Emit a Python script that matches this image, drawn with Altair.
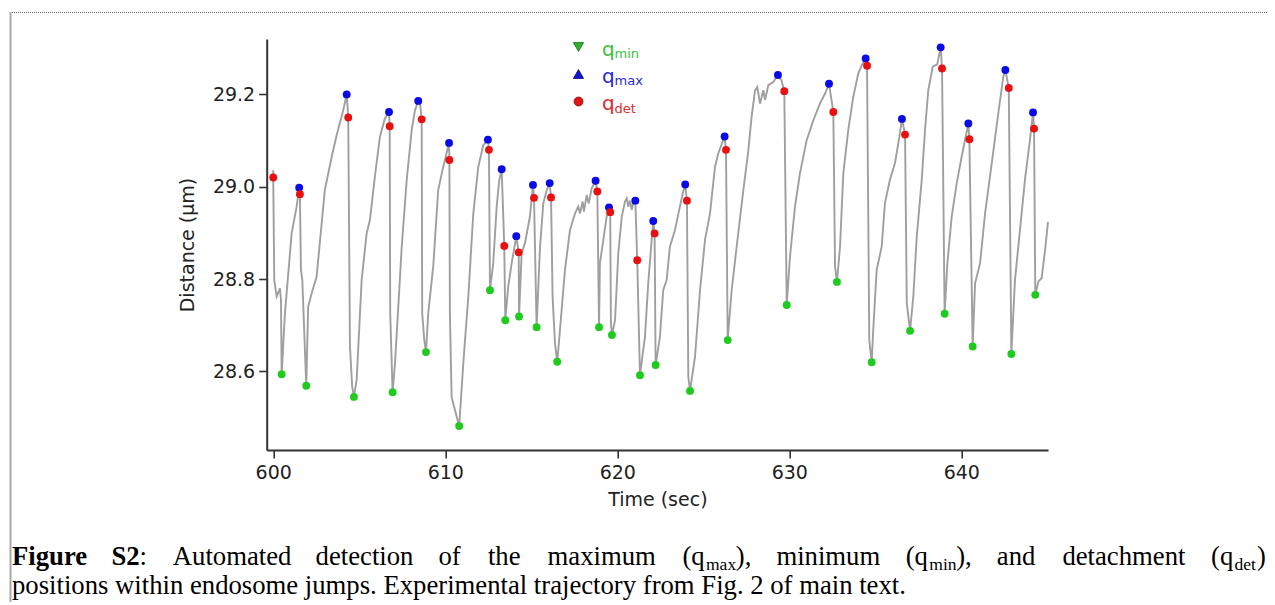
import altair as alt
import pandas as pd

# ---- trajectory (gray trace) ----
trace_t = [600.00, 600.00, 600.06, 600.20, 600.39, 600.45, 600.49, 600.68, 601.07, 601.36,
           601.51, 601.55, 601.61, 601.69, 601.92, 602.03, 602.23, 602.52, 603.00, 603.40,
           603.69, 604.07, 604.27, 604.36, 604.46, 604.59, 604.69, 604.85, 605.14, 605.43,
           605.62, 605.91, 606.20, 606.49, 606.73, 606.77, 606.80, 606.94, 607.08, 607.47,
           607.76, 608.05, 608.24, 608.43, 608.55, 608.63, 608.66, 608.78, 608.88, 609.01,
           609.30, 609.59, 609.88, 610.22, 610.24, 610.27, 610.37, 610.56, 610.81, 611.05,
           611.34, 611.63, 611.92, 612.21, 612.48, 612.54, 612.60, 612.79, 612.99, 613.14,
           613.28, 613.43, 613.49, 613.66, 613.86, 614.13, 614.27, 614.29, 614.44, 614.63,
           614.92, 615.10, 615.16, 615.31, 615.51, 615.70, 615.90, 616.07, 616.15, 616.24,
           616.38, 616.51, 616.67, 616.96, 617.25, 617.54, 617.73, 617.83, 617.99, 618.06,
           618.22, 618.34, 618.51, 618.74, 618.84, 618.94, 618.99, 619.19, 619.38, 619.52,
           619.59, 619.63, 619.69, 619.87, 620.06, 620.26, 620.45, 620.55, 620.64, 620.74,
           620.84, 620.93, 621.05, 621.16, 621.32, 621.61, 621.80, 622.00, 622.09, 622.17,
           622.23, 622.48, 622.67, 622.87, 623.06, 623.35, 623.64, 623.83, 623.95, 624.05,
           624.13, 624.23, 624.52, 624.81, 625.10, 625.39, 625.68, 625.87, 626.24, 626.32,
           626.42, 626.65, 626.94, 627.33, 627.62, 627.81, 628.01, 628.14, 628.30, 628.49,
           628.59, 628.78, 629.07, 629.34, 629.55, 629.71, 629.85, 630.04, 630.33, 630.62,
           631.01, 631.40, 631.78, 632.08, 632.31, 632.56, 632.66, 632.77, 632.95, 633.14,
           633.43, 633.72, 634.01, 634.21, 634.44, 634.52, 634.65, 634.79, 634.88, 635.08,
           635.37, 635.56, 635.85, 636.14, 636.40, 636.55, 636.73, 636.83, 637.02, 637.21,
           637.41, 637.70, 637.89, 638.08, 638.34, 638.60, 638.80, 638.88, 639.03, 639.19,
           639.44, 639.73, 640.02, 640.41, 640.47, 640.66, 640.80, 641.09, 641.38, 641.77,
           642.15, 642.44, 642.56, 642.76, 642.91, 643.12, 643.41, 643.70, 643.99, 644.17,
           644.23, 644.30, 644.48, 644.67, 644.87, 645.04]
trace_v = [29.036, 29.020, 28.798, 28.762, 28.780, 28.755, 28.594, 28.726, 28.899, 28.957,
           28.998, 28.984, 28.820, 28.798, 28.569, 28.740, 28.769, 28.805, 28.993, 29.065,
           29.112, 29.166, 29.200, 29.150, 28.654, 28.567, 28.545, 28.582, 28.798, 28.899,
           28.928, 29.022, 29.108, 29.148, 29.162, 29.131, 28.726, 28.555, 28.618, 28.870,
           29.015, 29.123, 29.166, 29.186, 29.175, 29.146, 28.726, 28.668, 28.642, 28.726,
           28.827, 28.993, 29.043, 29.095, 29.058, 28.726, 28.545, 28.517, 28.482, 28.618,
           28.762, 28.942, 29.043, 29.090, 29.102, 29.080, 28.776, 28.834, 28.957, 29.015,
           29.038, 28.872, 28.711, 28.784, 28.834, 28.893, 28.858, 28.719, 28.856, 28.877,
           28.935, 29.004, 28.976, 28.696, 28.870, 28.964, 28.993, 29.008, 28.977, 28.762,
           28.661, 28.621, 28.690, 28.820, 28.906, 28.942, 28.957, 28.942, 28.968, 28.946,
           28.982, 28.964, 28.996, 29.013, 28.990, 28.696, 28.834, 28.885, 28.935, 28.955,
           28.945, 28.704, 28.679, 28.711, 28.856, 28.935, 28.968, 28.975, 28.957, 28.970,
           28.950, 28.965, 28.970, 28.841, 28.592, 28.675, 28.791, 28.885, 28.926, 28.899,
           28.614, 28.675, 28.776, 28.798, 28.870, 28.906, 28.957, 28.989, 29.005, 28.970,
           28.589, 28.558, 28.632, 28.776, 28.885, 28.942, 29.043, 29.072, 29.109, 29.080,
           28.668, 28.776, 28.870, 28.993, 29.079, 29.152, 29.209, 29.216, 29.180, 29.209,
           29.188, 29.220, 29.227, 29.242, 29.230, 29.207, 28.744, 28.848, 28.957, 29.029,
           29.101, 29.144, 29.180, 29.202, 29.223, 29.162, 28.827, 28.794, 28.870, 29.029,
           29.123, 29.195, 29.245, 29.263, 29.278, 29.262, 28.668, 28.620, 28.690, 28.820,
           28.870, 28.964, 29.015, 29.051, 29.108, 29.147, 29.113, 28.748, 28.688, 28.762,
           28.892, 29.015, 29.123, 29.209, 29.260, 29.265, 29.302, 29.256, 28.725, 28.834,
           28.935, 29.007, 29.065, 29.137, 29.103, 28.654, 28.791, 28.834, 28.942, 29.051,
           29.159, 29.238, 29.253, 29.214, 28.638, 28.798, 28.906, 29.015, 29.101, 29.161,
           29.126, 28.766, 28.795, 28.802, 28.863, 28.924]

# ---- detected positions ----
qmin_t = [600.49, 601.92, 604.69, 606.94, 608.88, 610.81, 612.60, 613.49, 614.29, 615.31,
          616.51, 618.94, 619.69, 621.32, 622.23, 624.23, 626.42, 629.85, 632.77, 634.79,
          637.02, 639.03, 640.66, 642.91, 644.30]
qmin_v = [28.594, 28.569, 28.545, 28.555, 28.642, 28.482, 28.776, 28.711, 28.719, 28.696,
          28.621, 28.696, 28.679, 28.592, 28.614, 28.558, 28.668, 28.744, 28.794, 28.620,
          28.688, 28.725, 28.654, 28.638, 28.766]
qmax_t = [601.51, 604.27, 606.73, 608.43, 610.22, 612.48, 613.28, 614.13, 615.10, 616.07,
          618.74, 619.52, 621.05, 622.09, 623.95, 626.24, 629.34, 632.31, 634.44, 636.55,
          638.80, 640.41, 642.56, 644.17]
qmax_v = [28.998, 29.200, 29.162, 29.186, 29.095, 29.102, 29.038, 28.893, 29.004, 29.008,
          29.013, 28.955, 28.970, 28.926, 29.005, 29.109, 29.242, 29.223, 29.278, 29.147,
          29.302, 29.137, 29.253, 29.161]
qdet_t = [600.00, 601.55, 604.36, 606.77, 608.63, 610.24, 612.54, 613.43, 614.27, 615.16,
          616.15, 618.84, 619.59, 621.16, 622.17, 624.05, 626.32, 629.71, 632.56, 634.52,
          636.73, 638.88, 640.47, 642.76, 644.23]
qdet_v = [29.020, 28.984, 29.150, 29.131, 29.146, 29.058, 29.080, 28.872, 28.858, 28.976,
          28.977, 28.990, 28.945, 28.841, 28.899, 28.970, 29.080, 29.207, 29.162, 29.262,
          29.113, 29.256, 29.103, 29.214, 29.126]

x_ticks = [600, 610, 620, 630, 640]
y_ticks = [28.6, 28.8, 29.0, 29.2]
x_domain = [599.62, 645.04]
y_domain = [28.430, 29.320]

series_names = ["qmin", "qmax", "qdet"]
series_colors = ["#1ecb1e", "#0a0ae6", "#e81010"]

# ---- layout (page pixels) ----
PX0, PY0 = 266.7, 39.0      # plot-area origin on the page
W, H = 781.3, 411.0


def vx(px):
    return alt.value(px - PX0)


def vy(py):
    return alt.value(py - PY0)


one = pd.DataFrame({"k": [0]})

trace = pd.DataFrame({"t": trace_t, "v": trace_v, "i": list(range(len(trace_t)))})
pts = pd.concat([
    pd.DataFrame({"t": qmin_t, "v": qmin_v, "s": "qmin"}),
    pd.DataFrame({"t": qmax_t, "v": qmax_v, "s": "qmax"}),
    pd.DataFrame({"t": qdet_t, "v": qdet_v, "s": "qdet"}),
], ignore_index=True)
pts["o"] = list(range(len(pts)))

xenc = alt.X("t:Q", scale=alt.Scale(domain=x_domain, nice=False, zero=False),
             axis=alt.Axis(values=x_ticks, format="d", title="Time (sec)"))
yenc = alt.Y("v:Q", scale=alt.Scale(domain=y_domain, nice=False, zero=False),
             axis=alt.Axis(values=y_ticks, format=".1f", title="Distance (\u03bcm)"))

line = alt.Chart(trace).mark_line(color="#9f9f9f", strokeWidth=1.9).encode(
    x=xenc, y=yenc, order="i:Q")

dots = alt.Chart(pts).mark_circle(size=62, opacity=1).encode(
    x="t:Q", y="v:Q", order="o:Q",
    color=alt.Color("s:N", scale=alt.Scale(domain=series_names, range=series_colors), legend=None))

layers = [line, dots]

# ---- legend (manual, with subscripts) ----
leg_shapes = ["triangle-down", "triangle-up", "circle"]
leg_fill = ["#2fb02f", "#1515d0", "#e01515"]
leg_stroke = ["#1d6b1d", "#0a0a70", "#8a0a0a"]
leg_text_col = ["#3cbf3c", "#2a2ad6", "#e02a2a"]
leg_sub = ["min", "max", "det"]
leg_rows_y = [47.0, 74.0, 101.5]
leg_sizes = [105, 105, 80]
for shp, fc, sc, tc, sub, ry, sz in zip(leg_shapes, leg_fill, leg_stroke, leg_text_col, leg_sub,
                                        leg_rows_y, leg_sizes):
    layers.append(alt.Chart(one).mark_point(shape=shp, filled=True, size=sz, fill=fc,
                                            stroke=sc, strokeWidth=0.8, opacity=1)
                  .encode(x=vx(578.5), y=vy(ry)))
    layers.append(alt.Chart(one).mark_text(align="left", baseline="alphabetic", font="DejaVu Sans",
                                           fontSize=20, color=tc)
                  .encode(x=vx(602), y=vy(ry + 8.5), text=alt.value("q")))
    layers.append(alt.Chart(one).mark_text(align="left", baseline="alphabetic", font="DejaVu Sans",
                                           fontSize=13, color=tc)
                  .encode(x=vx(614.5), y=vy(ry + 11), text=alt.value(sub)))

# ---- frame around the figure ----
layers.append(alt.Chart(one).mark_rule(color="#666666", strokeWidth=1, strokeDash=[1, 1])
              .encode(x=vx(10), x2=vx(1275), y=vy(12.5)))
layers.append(alt.Chart(one).mark_rule(color="#a8a8a8", strokeWidth=2)
              .encode(x=vx(10.5), y=vy(12), y2=vy(605)))

# ---- caption (first line justified word by word, as in the reference) ----
cap_font = "Liberation Serif"
cap_size = 26.7
sub_size = 17.5
base1, base2 = 565.0, 594.0
cap1 = [
    ("Figure", 12.0, "bold", False),
    ("S2", 111.5, "bold", False),
    (":", 139.6, "normal", False),
    ("Automated", 172.8, "normal", False),
    ("detection", 315.6, "normal", False),
    ("of", 438.5, "normal", False),
    ("the", 487.9, "normal", False),
    ("maximum", 547.6, "normal", False),
    ("(q", 682.4, "normal", False),
    ("max", 706.0, "normal", True),
    ("),", 735.8, "normal", False),
    ("minimum", 776.4, "normal", False),
    ("(q", 905.7, "normal", False),
    ("min", 929.3, "normal", True),
    ("),", 956.2, "normal", False),
    ("and", 996.8, "normal", False),
    ("detachment", 1062.4, "normal", False),
    ("(q", 1211.0, "normal", False),
    ("det", 1234.6, "normal", True),
    (")", 1257.0, "normal", False),
]
for txt, px, wt, is_sub in cap1:
    layers.append(alt.Chart(one).mark_text(align="left", baseline="alphabetic", font=cap_font,
                                           fontSize=sub_size if is_sub else cap_size,
                                           fontWeight=wt, color="#000000")
                  .encode(x=vx(px), y=vy(base1 + (5 if is_sub else 0)), text=alt.value(txt)))
layers.append(alt.Chart(one).mark_text(align="left", baseline="alphabetic", font=cap_font,
                                       fontSize=cap_size, color="#000000")
              .encode(x=vx(12), y=vy(base2),
                      text=alt.value("positions within endosome jumps. Experimental trajectory from Fig. 2 of main text.")))

chart = alt.layer(*layers).properties(
    width=W, height=H,
    autosize=alt.AutoSizeParams(type="none"),
    padding={"left": PX0 - 8, "top": PY0 - 8, "right": 1275 - 8 - PX0 - W, "bottom": 152},
    background="white",
).configure_view(stroke=None).configure_axis(
    grid=False,
    domainColor="#333333", domainWidth=2,
    tickColor="#333333", tickWidth=1.6, tickSize=8,
    labelFont="DejaVu Sans", labelFontSize=19, labelColor="#222222",
    titleFont="DejaVu Sans", titleFontSize=19, titleFontWeight="normal", titleColor="#222222",
).configure_axisX(labelPadding=5, titlePadding=8).configure_axisY(labelPadding=4, titlePadding=15)

chart.save("out.html", embed_options={"renderer": "svg", "actions": False})
